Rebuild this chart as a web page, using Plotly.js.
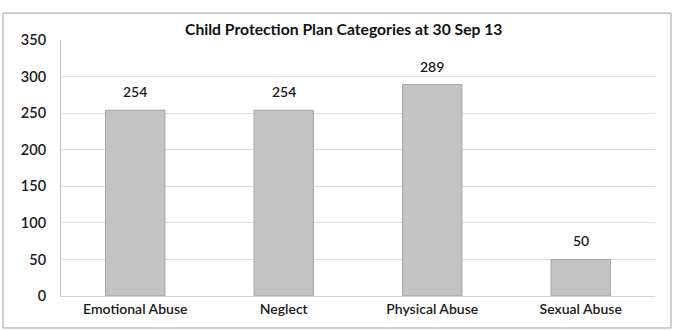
<!DOCTYPE html>
<html>
<head>
<meta charset="utf-8">
<script src="https://cdn.plot.ly/plotly-3.0.1.min.js"></script>
<style>html,body{margin:0;padding:0;background:#fff;}#chart{width:674px;height:331px;}</style>
</head>
<body>
<div id="chart"></div>
<script>
const categories = ["Emotional Abuse", "Neglect", "Physical Abuse", "Sexual Abuse"];
const values = [254, 254, 289, 50];
const yTicks = [0, 50, 100, 150, 200, 250, 300, 350];

const FONT = "Lato, 'Open Sans', sans-serif";

const trace = {
  type: "bar",
  x: categories,
  y: values,
  marker: {color: "#c3c3c3", line: {color: "#a5a5a5", width: 1}},
  hoverinfo: "none"
};

const labels = categories.map((c, i) => ({
  x: c, y: values[i], xref: "x", yref: "y",
  text: String(values[i]), showarrow: false,
  yanchor: "bottom", yshift: 8,
  font: {family: FONT, size: 14, color: "#1a1a1a", weight: 600}
}));

const layout = {
  width: 674, height: 331,
  margin: {l: 61, r: 19, t: 40, b: 35},
  paper_bgcolor: "#fff", plot_bgcolor: "#fff",
  showlegend: false,
  bargap: 0.6,
  title: {text: "<b>Child Protection Plan Categories at 30 Sep 13</b>",
          font: {family: FONT, size: 15.7, color: "#111"},
          x: 0.51, xanchor: "center", y: 0.91, yanchor: "middle"},
  xaxis: {
    tickfont: {family: FONT, size: 14, color: "#1a1a1a", weight: 600},
    showline: true, linecolor: "#c9d3dc", linewidth: 1,
    ticks: "", showgrid: false
  },
  yaxis: {
    range: [0, 350], tickvals: yTicks, ticktext: yTicks.map(String),
    tickfont: {family: FONT, size: 14.5, color: "#1a1a1a", weight: 600},
    showgrid: true, gridcolor: "#d6e0e8", gridwidth: 1,
    showline: true, linecolor: "#b9c7d3", linewidth: 1,
    zeroline: false, ticks: "", ticklabelstandoff: 11
  },
  annotations: labels,
  shapes: [{
    type: "rect", xref: "paper", yref: "paper",
    x0: -0.0976, x1: 1.027, y0: -0.125, y1: 1.105,
    line: {color: "#9aa3aa", width: 1}
  }]
};

Plotly.newPlot("chart", [trace], layout, {staticPlot: true, displayModeBar: false});
</script>
</body>
</html>
